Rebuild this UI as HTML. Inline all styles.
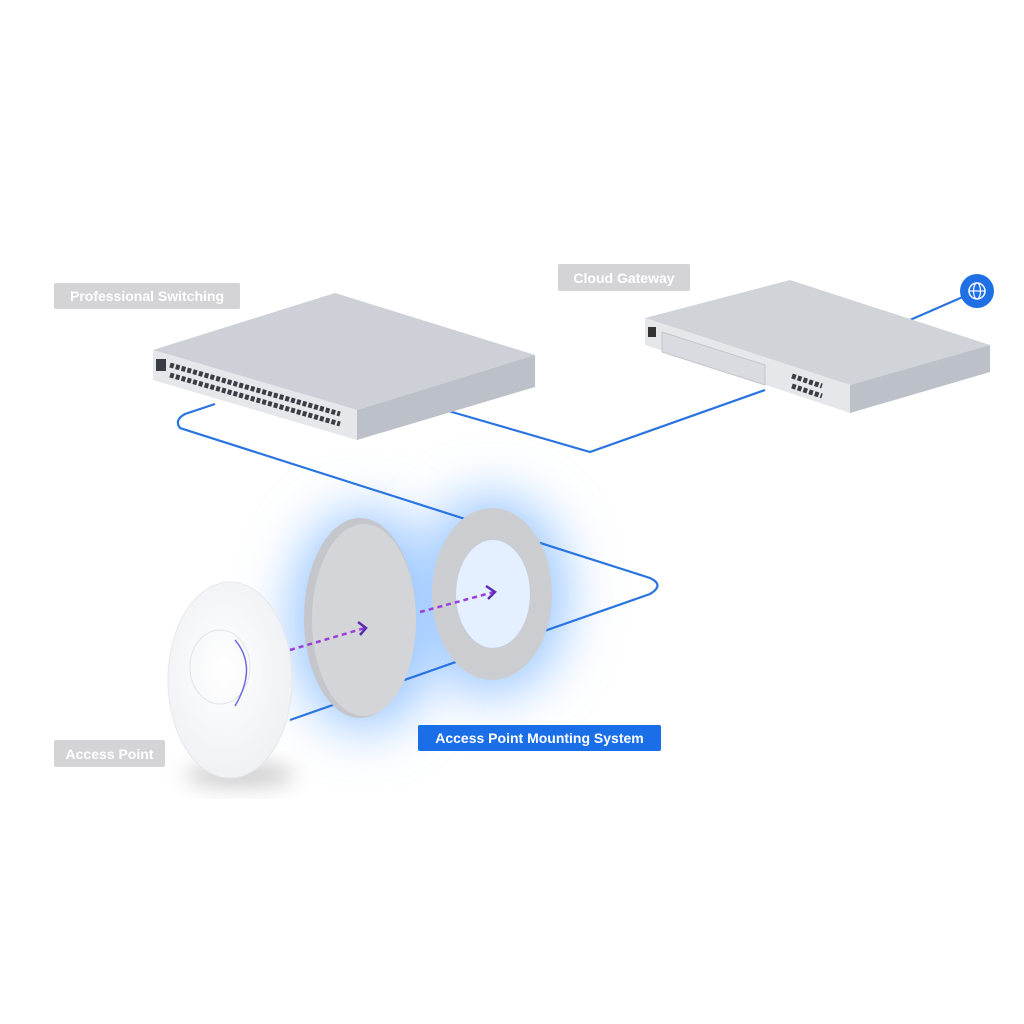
<!DOCTYPE html>
<html><head><style>
body{margin:0;width:1024px;height:1024px;background:#fff;overflow:hidden;font-family:"Liberation Sans",sans-serif}
.lb{position:absolute;background:#d4d4d6;color:#fff;font-size:14px;font-weight:bold;display:flex;align-items:center;justify-content:center;border-radius:2px}
</style></head><body>
<svg width="1024" height="1024" style="position:absolute;left:0;top:0">
<defs>
<filter id="b" x="-50%" y="-50%" width="200%" height="200%"><feGaussianBlur stdDeviation="26"/></filter>
<filter id="s" x="-50%" y="-50%" width="200%" height="200%"><feGaussianBlur stdDeviation="10"/></filter>
<radialGradient id="ap" cx="0.45" cy="0.45" r="0.6"><stop offset="0" stop-color="#fff"/><stop offset="1" stop-color="#eef0f3"/></radialGradient>
</defs>
<ellipse cx="365" cy="620" rx="75" ry="110" fill="#9cc8ff" filter="url(#b)"/>
<ellipse cx="492" cy="595" rx="75" ry="100" fill="#9cc8ff" filter="url(#b)"/>
<g fill="none" stroke="#2a74e0" stroke-width="2.2">
<path d="M215 404 L185 414 Q174 420 180 428 L650 578 Q665 585 650 594 L290 720"/>
<path d="M445 410 L590 452 L765 390"/>
<path d="M910 320 L965 296"/>
</g>
<circle cx="977" cy="291" r="17" fill="#1f6fe5"/>
<circle cx="977" cy="291" r="8" fill="none" stroke="#fff" stroke-width="1.5"/>
<ellipse cx="977" cy="291" rx="3.5" ry="8" fill="none" stroke="#fff" stroke-width="1.2"/>
<line x1="969" y1="291" x2="985" y2="291" stroke="#fff" stroke-width="1.2"/>
<polygon points="153,350 335,293 535,355 357,410" fill="#cdd0d6"/>
<polygon points="153,350 357,410 357,440 153,380" fill="#e6e7ea"/>
<polygon points="357,410 535,355 535,387 357,440" fill="#bcc0c8"/>
<rect x="156" y="359" width="10" height="12" fill="#3a3d44"/>
<path d="M170 365 L340 414 M170 375 L340 424" stroke="#3a3d44" stroke-width="5" stroke-dasharray="4,2"/>
<polygon points="645,318 790,280 990,345 850,385" fill="#d0d3d8"/>
<polygon points="645,318 850,385 850,413 645,345" fill="#e6e7ea"/>
<polygon points="850,385 990,345 990,372 850,413" fill="#bcc0c8"/>
<rect x="648" y="327" width="8" height="10" fill="#333"/>
<polygon points="662,332 765,365 765,385 662,352" fill="#d9dbe0" stroke="#c4c6cb"/>
<path d="M792 376 L822 386 M792 386 L822 396" stroke="#3a3d44" stroke-width="5" stroke-dasharray="4,2"/>
<ellipse cx="240" cy="775" rx="55" ry="12" fill="#ccc" filter="url(#s)"/>
<ellipse cx="230" cy="680" rx="62" ry="98" fill="url(#ap)" stroke="#e6e8ec"/>
<ellipse cx="220" cy="667" rx="30" ry="37" fill="none" stroke="#e3e4ea"/>
<path d="M235 640 Q258 667 235 706" fill="none" stroke="#6d6de0" stroke-width="1.5"/>
<ellipse cx="360" cy="618" rx="56" ry="100" fill="#c4c6cb"/>
<ellipse cx="364" cy="620" rx="52" ry="96" fill="#d3d5d9"/>
<path fill-rule="evenodd" fill="#cbcdd1" d="M432 594 a60 86 0 1 0 120 0 a60 86 0 1 0 -120 0 Z M456 594 a37 54 0 1 0 74 0 a37 54 0 1 0 -74 0 Z"/>
<ellipse cx="493" cy="594" rx="37" ry="54" fill="#e4efff"/>
<g fill="none" stroke="#9b3fd8" stroke-width="2.5" stroke-dasharray="5,4">
<path d="M290 650 L365 628"/><path d="M420 612 L494 592"/>
</g>
<g fill="none" stroke="#5b2db0" stroke-width="2.5">
<path d="M358 622 L366 628 L360 635"/><path d="M486 586 L495 592 L488 599"/>
</g>
</svg>
<div class="lb" style="left:54px;top:283px;width:186px;height:26px">Professional Switching</div>
<div class="lb" style="left:558px;top:264px;width:132px;height:27px">Cloud Gateway</div>
<div class="lb" style="left:54px;top:740px;width:111px;height:27px">Access Point</div>
<div class="lb" style="left:418px;top:725px;width:243px;height:26px;background:#1a6fe8">Access Point Mounting System</div>
</body></html>
